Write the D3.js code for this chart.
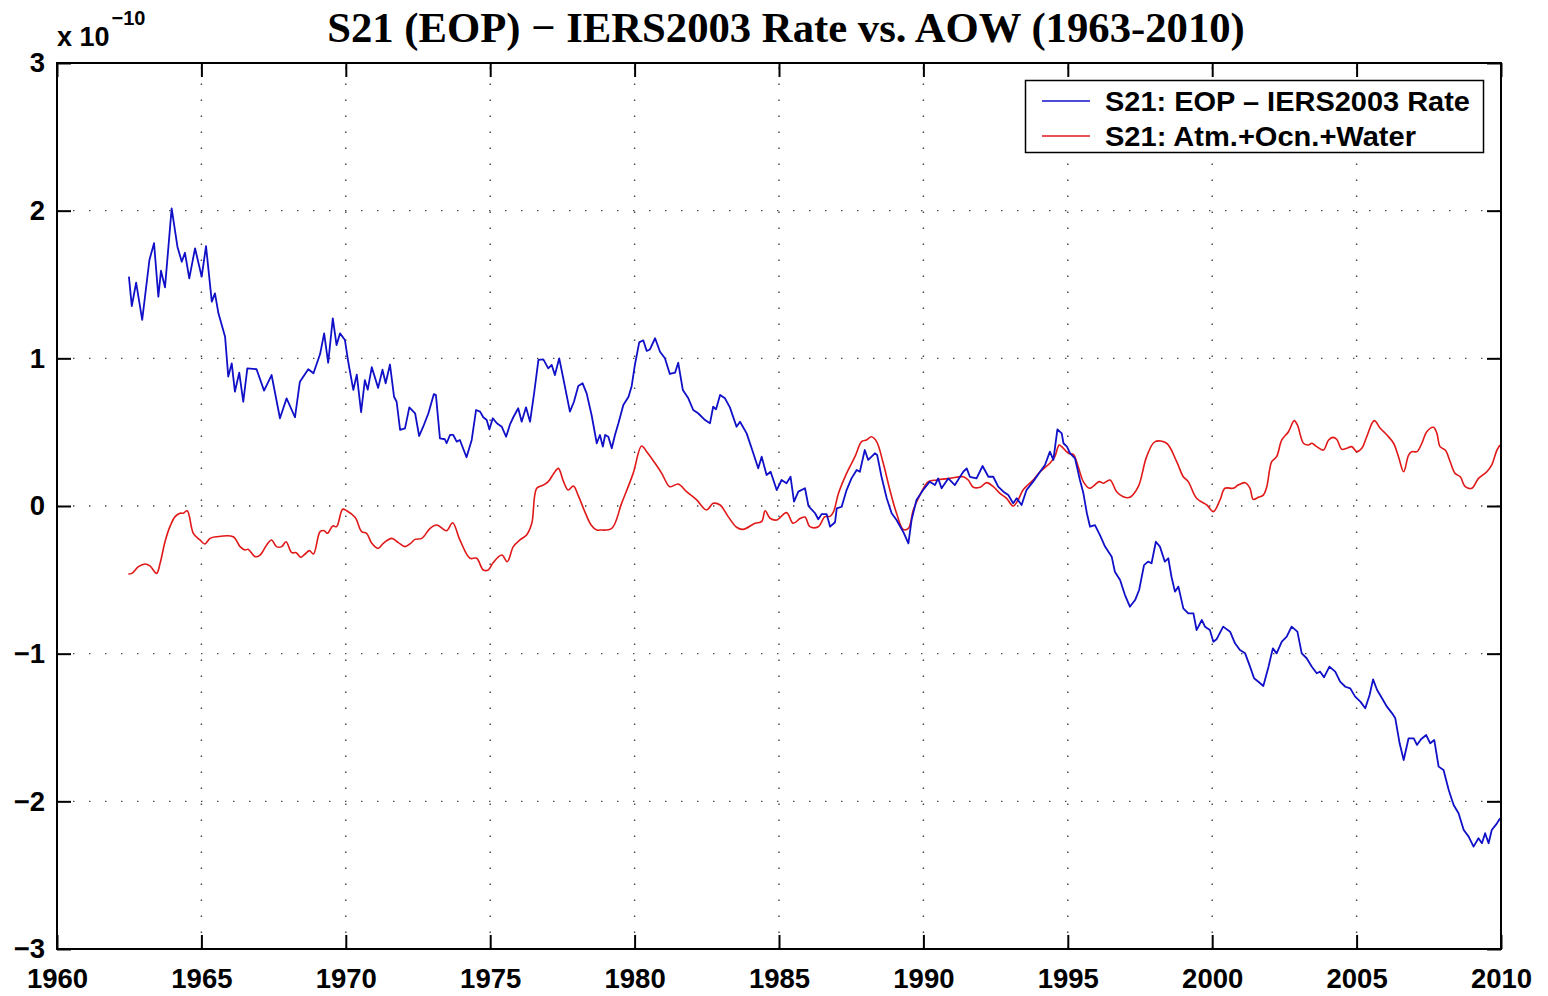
<!DOCTYPE html>
<html><head><meta charset="utf-8">
<script src="https://cdn.jsdelivr.net/npm/d3@7"></script>
<style>html,body{margin:0;padding:0;background:#fff;}</style>
</head><body>
<svg id="chart" width="1548" height="996"></svg>
<script>
const titleText = "S21 (EOP) \u2212 IERS2003 Rate vs. AOW (1963-2010)";
const seriesNames = ["S21: EOP \u2013 IERS2003 Rate", "S21: Atm.+Ocn.+Water"];
const xTicks = [1960,1965,1970,1975,1980,1985,1990,1995,2000,2005,2010];
const yTicks = [-3,-2,-1,0,1,2,3];

const eopYear = [1962.49,1962.59,1962.74,1962.95,1963.2,1963.36,1963.51,1963.6,1963.74,1963.97,1964.17,1964.32,1964.43,1964.58,1964.78,1965.01,1965.16,1965.36,1965.47,1965.59,1965.82,1965.93,1966.05,1966.16,1966.31,1966.45,1966.59,1966.91,1967.17,1967.43,1967.72,1967.95,1968.24,1968.41,1968.7,1968.88,1969.11,1969.25,1969.39,1969.55,1969.68,1969.8,1969.97,1970.09,1970.26,1970.38,1970.53,1970.66,1970.76,1970.9,1971.12,1971.27,1971.38,1971.53,1971.67,1971.76,1971.88,1972.05,1972.2,1972.4,1972.54,1972.68,1972.86,1973.05,1973.12,1973.26,1973.43,1973.49,1973.61,1973.72,1973.84,1973.95,1974.18,1974.36,1974.51,1974.65,1974.76,1974.88,1974.97,1975.09,1975.23,1975.4,1975.55,1975.69,1975.8,1975.97,1976.09,1976.24,1976.38,1976.52,1976.67,1976.84,1977.01,1977.13,1977.24,1977.39,1977.53,1977.76,1977.9,1978.05,1978.2,1978.34,1978.51,1978.69,1978.8,1978.9,1978.98,1979.09,1979.21,1979.32,1979.44,1979.61,1979.79,1979.9,1980.01,1980.16,1980.3,1980.42,1980.53,1980.71,1980.88,1981.05,1981.22,1981.4,1981.51,1981.67,1981.86,1982.03,1982.2,1982.44,1982.61,1982.72,1982.82,1982.96,1983.13,1983.3,1983.53,1983.65,1983.88,1984.11,1984.28,1984.4,1984.57,1984.71,1984.92,1985.09,1985.26,1985.4,1985.52,1985.67,1985.9,1986.02,1986.25,1986.36,1986.48,1986.65,1986.77,1986.94,1987.0,1987.17,1987.34,1987.51,1987.69,1987.8,1987.97,1988.09,1988.32,1988.4,1988.55,1988.73,1988.9,1989.07,1989.3,1989.48,1989.59,1989.76,1989.99,1990.22,1990.4,1990.51,1990.63,1990.86,1991.09,1991.38,1991.5,1991.61,1991.84,1992.05,1992.25,1992.42,1992.59,1992.77,1992.94,1993.11,1993.23,1993.4,1993.57,1993.8,1994.04,1994.21,1994.38,1994.5,1994.64,1994.79,1994.85,1994.97,1995.08,1995.25,1995.42,1995.54,1995.66,1995.77,1995.94,1996.11,1996.29,1996.52,1996.63,1996.81,1996.98,1997.15,1997.33,1997.47,1997.64,1997.78,1997.9,1998.05,1998.19,1998.36,1998.48,1998.59,1998.71,1998.83,1999.0,1999.17,1999.35,1999.46,1999.64,1999.75,1999.92,2000.04,2000.15,2000.38,2000.62,2000.79,2000.96,2001.14,2001.31,2001.45,2001.6,2001.77,2001.95,2002.1,2002.23,2002.41,2002.58,2002.75,2002.95,2003.1,2003.27,2003.45,2003.62,2003.74,2003.87,2004.06,2004.26,2004.43,2004.61,2004.78,2004.95,2005.13,2005.3,2005.45,2005.57,2005.71,2005.88,2006.05,2006.23,2006.34,2006.49,2006.63,2006.8,2006.98,2007.09,2007.23,2007.41,2007.55,2007.69,2007.84,2008.01,2008.19,2008.36,2008.53,2008.71,2008.88,2009.05,2009.22,2009.34,2009.45,2009.57,2009.68,2009.86,2009.97];
const eopRate = [1.553,1.354,1.512,1.26,1.666,1.78,1.417,1.593,1.481,2.016,1.756,1.654,1.715,1.542,1.745,1.553,1.76,1.384,1.44,1.305,1.146,0.876,0.966,0.774,0.903,0.706,0.932,0.926,0.781,0.887,0.594,0.729,0.601,0.842,0.926,0.899,1.029,1.169,0.97,1.271,1.09,1.169,1.124,0.97,0.786,0.89,0.635,0.853,0.788,0.94,0.8,0.923,0.831,0.958,0.74,0.706,0.515,0.526,0.668,0.628,0.474,0.537,0.628,0.758,0.752,0.458,0.452,0.425,0.481,0.481,0.436,0.447,0.33,0.447,0.65,0.639,0.601,0.582,0.519,0.594,0.56,0.537,0.469,0.555,0.601,0.662,0.571,0.668,0.571,0.763,0.989,0.993,0.932,0.955,0.887,1.0,0.865,0.639,0.706,0.813,0.831,0.763,0.616,0.425,0.481,0.402,0.481,0.469,0.391,0.481,0.56,0.684,0.74,0.813,0.955,1.108,1.122,1.05,1.06,1.136,1.045,1.0,0.894,0.903,0.97,0.786,0.729,0.65,0.628,0.582,0.56,0.672,0.655,0.752,0.729,0.668,0.537,0.571,0.492,0.357,0.255,0.334,0.21,0.232,0.108,0.176,0.154,0.198,0.029,0.097,0.12,0.0,-0.049,-0.09,-0.055,-0.055,-0.14,-0.11,-0.016,-0.005,0.108,0.187,0.244,0.232,0.379,0.312,0.357,0.345,0.198,0.052,-0.049,-0.095,-0.174,-0.253,-0.095,0.041,0.108,0.165,0.142,0.187,0.12,0.187,0.142,0.232,0.255,0.198,0.187,0.271,0.198,0.198,0.131,0.097,0.074,0.018,0.052,0.007,0.108,0.165,0.232,0.278,0.368,0.312,0.519,0.492,0.425,0.402,0.357,0.323,0.176,0.086,-0.049,-0.14,-0.129,-0.196,-0.275,-0.343,-0.445,-0.501,-0.603,-0.682,-0.637,-0.569,-0.4,-0.377,-0.388,-0.242,-0.275,-0.377,-0.354,-0.479,-0.58,-0.546,-0.693,-0.727,-0.727,-0.84,-0.772,-0.817,-0.84,-0.919,-0.903,-0.817,-0.851,-0.93,-0.975,-0.998,-1.088,-1.167,-1.19,-1.219,-1.088,-0.964,-0.998,-0.919,-0.885,-0.817,-0.851,-0.998,-1.031,-1.088,-1.133,-1.122,-1.16,-1.088,-1.122,-1.19,-1.224,-1.235,-1.291,-1.325,-1.37,-1.28,-1.174,-1.246,-1.302,-1.359,-1.404,-1.438,-1.607,-1.72,-1.573,-1.573,-1.618,-1.58,-1.551,-1.607,-1.585,-1.765,-1.788,-1.923,-2.025,-2.081,-2.194,-2.239,-2.307,-2.25,-2.284,-2.216,-2.284,-2.194,-2.149,-2.115];

const aowYear = [1962.47,1962.59,1962.82,1963.05,1963.22,1963.45,1963.57,1963.74,1963.91,1964.09,1964.26,1964.37,1964.51,1964.72,1964.95,1965.12,1965.3,1965.53,1966.1,1966.34,1966.51,1966.62,1966.86,1967.03,1967.26,1967.43,1967.6,1967.78,1967.93,1968.13,1968.28,1968.44,1968.59,1968.74,1968.88,1969.11,1969.25,1969.36,1969.55,1969.68,1969.89,1970.03,1970.32,1970.55,1970.72,1970.9,1971.12,1971.3,1971.59,1971.82,1972.05,1972.22,1972.4,1972.63,1972.92,1973.15,1973.49,1973.7,1973.95,1974.3,1974.53,1974.76,1974.93,1975.1,1975.4,1975.59,1975.8,1976.03,1976.26,1976.44,1976.61,1976.84,1977.01,1977.2,1977.36,1977.53,1977.7,1977.88,1978.05,1978.3,1978.5,1978.69,1978.8,1979.21,1979.55,1979.95,1980.24,1980.42,1980.71,1980.94,1981.22,1981.51,1981.8,1982.15,1982.49,1982.72,1982.96,1983.24,1983.53,1983.76,1984.17,1984.4,1984.52,1984.69,1984.92,1985.26,1985.49,1985.73,1985.9,1986.07,1986.36,1986.59,1986.77,1986.89,1987.06,1987.34,1987.63,1987.86,1988.03,1988.2,1988.38,1988.61,1988.84,1989.07,1989.3,1989.48,1989.65,1989.88,1990.17,1990.46,1990.92,1991.38,1991.55,1991.73,1991.96,1992.19,1992.42,1992.65,1992.88,1993.11,1993.28,1993.45,1993.8,1994.04,1994.38,1994.55,1994.7,1994.79,1995.02,1995.19,1995.36,1995.54,1995.75,1996.09,1996.23,1996.46,1996.69,1996.92,1997.15,1997.44,1997.73,1998.02,1998.42,1998.77,1999.0,1999.17,1999.46,1999.81,2000.04,2000.27,2000.44,2000.73,2000.9,2001.14,2001.31,2001.42,2001.6,2001.77,2001.89,2002.06,2002.23,2002.41,2002.64,2002.84,2002.95,2003.16,2003.33,2003.45,2003.62,2003.85,2004.03,2004.18,2004.31,2004.49,2004.66,2004.83,2005.01,2005.18,2005.35,2005.61,2005.82,2006.05,2006.28,2006.45,2006.63,2006.8,2006.91,2007.09,2007.26,2007.43,2007.66,2007.78,2007.89,2008.07,2008.24,2008.41,2008.59,2008.76,2008.99,2009.22,2009.51,2009.68,2009.86,2009.97];
const aowRate = [-0.46,-0.456,-0.411,-0.393,-0.406,-0.456,-0.388,-0.242,-0.14,-0.072,-0.049,-0.049,-0.032,-0.185,-0.23,-0.257,-0.219,-0.208,-0.208,-0.275,-0.298,-0.293,-0.343,-0.332,-0.264,-0.23,-0.275,-0.275,-0.242,-0.316,-0.316,-0.347,-0.325,-0.302,-0.325,-0.174,-0.167,-0.185,-0.135,-0.14,-0.022,-0.032,-0.077,-0.174,-0.185,-0.253,-0.287,-0.253,-0.219,-0.248,-0.275,-0.257,-0.226,-0.219,-0.151,-0.129,-0.167,-0.113,-0.23,-0.354,-0.354,-0.433,-0.433,-0.384,-0.332,-0.377,-0.275,-0.23,-0.196,-0.117,0.12,0.142,0.165,0.22,0.255,0.17,0.108,0.135,0.07,-0.05,-0.13,-0.163,-0.163,-0.151,0.018,0.221,0.406,0.368,0.289,0.221,0.131,0.149,0.097,0.041,-0.027,0.018,0.007,-0.072,-0.144,-0.158,-0.117,-0.106,-0.032,-0.083,-0.095,-0.045,-0.117,-0.085,-0.075,-0.14,-0.14,-0.072,-0.07,-0.038,0.086,0.221,0.334,0.436,0.447,0.469,0.436,0.289,0.108,-0.049,-0.158,-0.151,-0.027,0.074,0.165,0.176,0.187,0.198,0.176,0.127,0.127,0.158,0.131,0.086,0.052,0.0,0.041,0.108,0.176,0.232,0.29,0.334,0.413,0.402,0.357,0.35,0.266,0.165,0.12,0.165,0.154,0.176,0.097,0.063,0.059,0.131,0.334,0.436,0.425,0.3,0.198,0.165,0.052,0.007,-0.038,0.041,0.12,0.12,0.142,0.158,0.12,0.045,0.059,0.074,0.131,0.3,0.334,0.447,0.503,0.578,0.549,0.425,0.413,0.425,0.402,0.379,0.447,0.465,0.452,0.384,0.391,0.402,0.368,0.391,0.469,0.578,0.526,0.481,0.425,0.334,0.232,0.345,0.368,0.368,0.425,0.503,0.533,0.492,0.402,0.379,0.3,0.221,0.198,0.131,0.12,0.187,0.232,0.278,0.379,0.413];

const svg = d3.select("#chart");
const m = {left:57, right:1501, top:63, bottom:949};
const x = d3.scaleLinear().domain([1960,2010]).range([m.left, m.right]);
const y = d3.scaleLinear().domain([-3,3]).range([m.bottom, m.top]);
const sans = "'Liberation Sans', Arial, Helvetica, sans-serif";

// grid
const grid = svg.append("g").attr("stroke","#444").attr("stroke-width",1.4).attr("stroke-dasharray","1.4,14.6").attr("fill","none");
xTicks.slice(1,-1).forEach(t => grid.append("line").attr("x1",x(t)).attr("x2",x(t)).attr("y1",m.bottom).attr("y2",m.top));
yTicks.slice(1,-1).forEach(t => grid.append("line").attr("x1",m.left).attr("x2",m.right).attr("y1",y(t)).attr("y2",y(t)));

// data lines
svg.append("clipPath").attr("id","clip").append("rect").attr("x",m.left).attr("y",m.top).attr("width",m.right-m.left).attr("height",m.bottom-m.top);
const eop = eopYear.map((d,i)=>[d,eopRate[i]]);
const aow = aowYear.map((d,i)=>[d,aowRate[i]]);
const line = d3.line().x(d=>x(d[0])).y(d=>y(d[1]));
const lineSmooth = d3.line().x(d=>x(d[0])).y(d=>y(d[1])).curve(d3.curveCatmullRom);
svg.append("path").datum(aow).attr("d",lineSmooth).attr("fill","none").attr("stroke","#e01818").attr("stroke-width",1.6).attr("clip-path","url(#clip)");
svg.append("path").datum(eop).attr("d",line).attr("fill","none").attr("stroke","#1010c8").attr("stroke-width",1.8).attr("stroke-linejoin","round").attr("clip-path","url(#clip)");

// axes (MATLAB-like box with inward ticks)
const tl = 14;
const axB = d3.axisBottom(x).tickValues(xTicks).tickSize(-tl).tickFormat(d3.format("d"));
const axT = d3.axisTop(x).tickValues(xTicks).tickSize(-tl).tickFormat("");
const axL = d3.axisLeft(y).tickValues(yTicks).tickSize(-tl).tickFormat(d => d<0 ? "\u2212"+Math.abs(d) : d);
const axR = d3.axisRight(y).tickValues(yTicks).tickSize(-tl).tickFormat("");
function style(g){
  g.selectAll(".tick line").attr("stroke","#000").attr("stroke-width",2);
  g.selectAll(".tick text").attr("font-family",sans).attr("font-weight","bold").attr("font-size",27.5).attr("fill","#000"); }
svg.append("g").attr("transform",`translate(0,${m.bottom})`).call(axB).call(style).selectAll(".tick text").attr("dy",null).attr("y",39);
svg.append("g").attr("transform",`translate(0,${m.top})`).call(axT).call(style);
svg.append("g").attr("transform",`translate(${m.left},0)`).call(axL).call(style).selectAll(".tick text").attr("x",-12);
svg.append("g").attr("transform",`translate(${m.right},0)`).call(axR).call(style);
svg.selectAll(".domain").remove();
svg.append("rect").attr("x",m.left).attr("y",m.top).attr("width",m.right-m.left).attr("height",m.bottom-m.top).attr("fill","none").attr("stroke","#000").attr("stroke-width",2);

// exponent label
const ex = svg.append("text").attr("x",57).attr("y",46).attr("font-family",sans).attr("font-weight","bold").attr("font-size",27).attr("fill","#000");
ex.append("tspan").text("x 10");
ex.append("tspan").attr("font-size",20).attr("dy",-21).attr("dx",2).text("\u221210");

// title
svg.append("text").attr("x",786).attr("y",42).attr("text-anchor","middle").attr("font-family","'Liberation Serif','Times New Roman',serif").attr("font-weight","bold").attr("font-size",42.7).attr("fill","#000").text(titleText);

// legend
const lg = svg.append("g");
lg.append("rect").attr("x",1025.5).attr("y",80.5).attr("width",458).attr("height",72).attr("fill","#fff").attr("stroke","#000").attr("stroke-width",1.5);
const colors = ["#1010c8","#e01818"];
const legendWidths = [365, 311];
seriesNames.forEach((n,i)=>{
  const yy = 101 + i*35;
  lg.append("line").attr("x1",1042).attr("x2",1090).attr("y1",yy).attr("y2",yy).attr("stroke",colors[i]).attr("stroke-width",1.5);
  lg.append("text").attr("x",1105).attr("y",yy+10).attr("font-family",sans).attr("font-weight","bold").attr("font-size",27).attr("fill","#000")
    .attr("textLength",legendWidths[i]).attr("lengthAdjust","spacingAndGlyphs").text(n);
});
</script>
</body></html>
